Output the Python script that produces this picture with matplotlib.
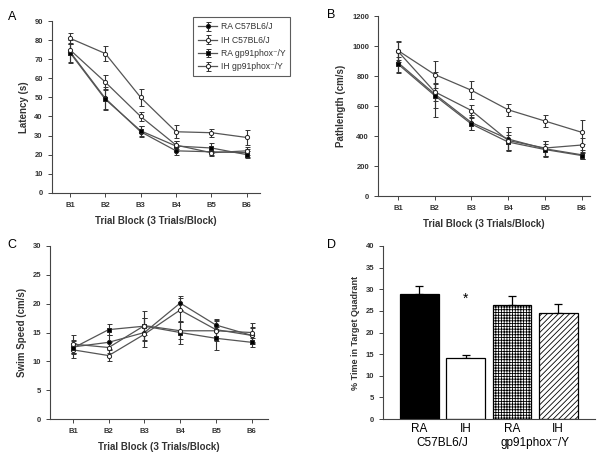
import matplotlib
matplotlib.use("Agg")
import matplotlib.pyplot as plt
import numpy as np

plt.rcParams['font.family'] = ['Liberation Sans', 'DejaVu Sans']
plt.rcParams['hatch.linewidth'] = 0.6

# dados
blocos = ["B1", "B2", "B3", "B4", "B5", "B6"]
grupos = ["RA C57BL6/J", "IH C57BL6/J", "RA gp91phox\u207b/Y", "IH gp91phox\u207b/Y"]

# A - latencia
lat_ra_c57 = [74, 49.5, 32, 22, 21.5, 21]
lat_ih_c57 = [81, 73, 50, 32, 31.5, 29]
lat_ra_gp = [73.5, 49, 32.5, 24.5, 23.5, 20]
lat_ih_gp = [75, 58, 40, 25, 21, 22]
lat_err_ra_c57 = [6, 6, 3, 2, 2, 2]
lat_err_ih_c57 = [3, 4, 4.5, 3.5, 2, 4]
lat_err_ra_gp = [5, 5, 2.5, 2.5, 2.5, 2]
lat_err_ih_gp = [3, 3.5, 2.5, 2, 1, 2]

# B - pathlength
pl_ra_c57 = [890, 680, 490, 380, 315, 275]
pl_ih_c57 = [970, 810, 705, 575, 500, 425]
pl_ra_gp = [880, 670, 480, 360, 310, 270]
pl_ih_gp = [965, 695, 570, 370, 320, 340]
pl_err_ra_c57 = [70, 150, 50, 80, 55, 30]
pl_err_ih_c57 = [60, 90, 60, 40, 40, 80]
pl_err_ra_gp = [50, 80, 40, 50, 40, 25]
pl_err_ih_gp = [70, 60, 40, 60, 50, 50]

# C - velocidade
sp_ra_c57 = [12.5, 13.3, 15, 20.1, 16.3, 14.5]
sp_ih_c57 = [12, 11, 14.7, 18.9, 15.5, 14.5]
sp_ra_gp = [12.3, 15.5, 16.1, 15, 14, 13.3]
sp_ih_gp = [13, 12.4, 16.2, 15.3, 15.3, 15]
sp_err_ra_c57 = [1.2, 1.2, 2.5, 1.2, 1, 1.5]
sp_err_ih_c57 = [1.5, 1, 1.2, 2, 1.5, 1.3]
sp_err_ra_gp = [0.8, 1, 1.5, 2, 2, 0.8]
sp_err_ih_gp = [1.5, 1, 2.5, 1.5, 1.8, 1.6]

# D - quadrante alvo
d_rotulos = ["RA", "IH", "RA", "IH"]
d_valores = [28.8, 14.0, 26.3, 24.5]
d_erros = [1.9, 0.8, 2.1, 2.1]

cinza = "#555555"
estilos = [("o", "black"), ("o", "white"), ("s", "black"), ("o", "white")]


def linhas(ax, series, erros):
    x = np.arange(1, 7)
    hs = []
    for (mk, fc), y, e, nome in zip(estilos, series, erros, grupos):
        h = ax.errorbar(x, y, yerr=e, color=cinza, lw=0.9, marker=mk, ms=3,
                        mfc=fc, mec="#222222", mew=0.7, capsize=1.8,
                        elinewidth=0.8, capthick=0.8, ecolor="#333333", label=nome)
        hs.append(h)
    ax.set_xticks(x)
    ax.set_xticklabels(blocos)
    ax.set_xlabel("Trial Block (3 Trials/Block)", fontsize=7, fontweight="bold",
                  color="#333333", labelpad=5)
    return hs


def estilo(ax):
    for s in ["top", "right"]:
        ax.spines[s].set_visible(False)
    for s in ["left", "bottom"]:
        ax.spines[s].set_color("#444444")
        ax.spines[s].set_linewidth(0.8)
    ax.tick_params(length=3, width=0.7, color="#444444", labelsize=5.5,
                   labelcolor="#333333")
    for t in ax.get_xticklabels() + ax.get_yticklabels():
        t.set_fontweight("bold")


fig = plt.figure(figsize=(6.03, 4.58), dpi=100)

# painel A
axA = fig.add_axes([0.086, 0.579, 0.345, 0.375])
hs = linhas(axA, [lat_ra_c57, lat_ih_c57, lat_ra_gp, lat_ih_gp],
            [lat_err_ra_c57, lat_err_ih_c57, lat_err_ra_gp, lat_err_ih_gp])
axA.set_ylim(0, 90)
axA.set_yticks(range(0, 91, 10))
axA.set_xlim(0.49, 6.37)
axA.set_ylabel("Latency (s)", fontsize=7, fontweight="bold", color="#333333")
estilo(axA)
leg = fig.legend(handles=hs, loc="upper left", bbox_to_anchor=(0.313, 0.972),
                 fontsize=6.2, frameon=True, fancybox=False, edgecolor="#333333",
                 handlelength=2.2, handletextpad=0.4, borderpad=0.6,
                 labelspacing=0.5)
leg.get_frame().set_linewidth(0.8)
for t in leg.get_texts():
    t.set_color("#333333")

# painel B
axB = fig.add_axes([0.627, 0.572, 0.351, 0.393])
linhas(axB, [pl_ra_c57, pl_ih_c57, pl_ra_gp, pl_ih_gp],
       [pl_err_ra_c57, pl_err_ih_c57, pl_err_ra_gp, pl_err_ih_gp])
axB.set_ylim(0, 1200)
axB.set_yticks(range(0, 1201, 200))
axB.set_xlim(0.46, 6.22)
axB.set_ylabel("Pathlength (cm/s)", fontsize=7, fontweight="bold", color="#333333")
estilo(axB)

# painel C
axC = fig.add_axes([0.083, 0.085, 0.361, 0.378])
linhas(axC, [sp_ra_c57, sp_ih_c57, sp_ra_gp, sp_ih_gp],
       [sp_err_ra_c57, sp_err_ih_c57, sp_err_ra_gp, sp_err_ih_gp])
axC.set_ylim(0, 30)
axC.set_yticks(range(0, 31, 5))
axC.set_xlim(0.36, 6.45)
axC.set_ylabel("Swim Speed (cm/s)", fontsize=7, fontweight="bold", color="#333333")
estilo(axC)

# painel D
axD = fig.add_axes([0.635, 0.085, 0.352, 0.378])
xd = np.arange(4)
cores = ["black", "white", "white", "white"]
hachuras = [None, None, "++++++", "//////"]
for i in range(4):
    axD.bar(xd[i], d_valores[i], width=0.84, color=cores[i], edgecolor="black",
            linewidth=0.9, hatch=hachuras[i], zorder=2)
    axD.errorbar(xd[i], d_valores[i], yerr=[[0], [d_erros[i]]], color="black",
                 capsize=3, elinewidth=0.9, capthick=0.9, zorder=1)
axD.text(1, 26.2, "*", ha="center", va="bottom", fontsize=10)
axD.set_ylim(0, 40)
axD.set_yticks(range(0, 41, 5))
axD.set_xlim(-0.79, 3.8)
axD.set_xticks(xd)
axD.set_xticklabels(d_rotulos)
axD.set_ylabel("% Time in Target Quadrant", fontsize=6.5, fontweight="bold",
               color="#333333")
estilo(axD)
axD.tick_params(axis="x", length=0, labelsize=8.5, pad=3)
for t in axD.get_xticklabels():
    t.set_fontweight("normal")
    t.set_color("black")
axD.text(0.5, -0.105, "C57BL6/J", transform=axD.get_xaxis_transform(),
         ha="center", va="top", fontsize=8.5)
axD.text(2.5, -0.105, "gp91phox\u207b/Y", transform=axD.get_xaxis_transform(),
         ha="center", va="top", fontsize=8.5)

# letras dos paineis
fig.text(0.013, 0.975, "A", fontsize=9, va="top")
fig.text(0.543, 0.98, "B", fontsize=9, va="top")
fig.text(0.013, 0.478, "C", fontsize=9, va="top")
fig.text(0.543, 0.478, "D", fontsize=9, va="top")

fig.savefig("out.png", dpi=100)
